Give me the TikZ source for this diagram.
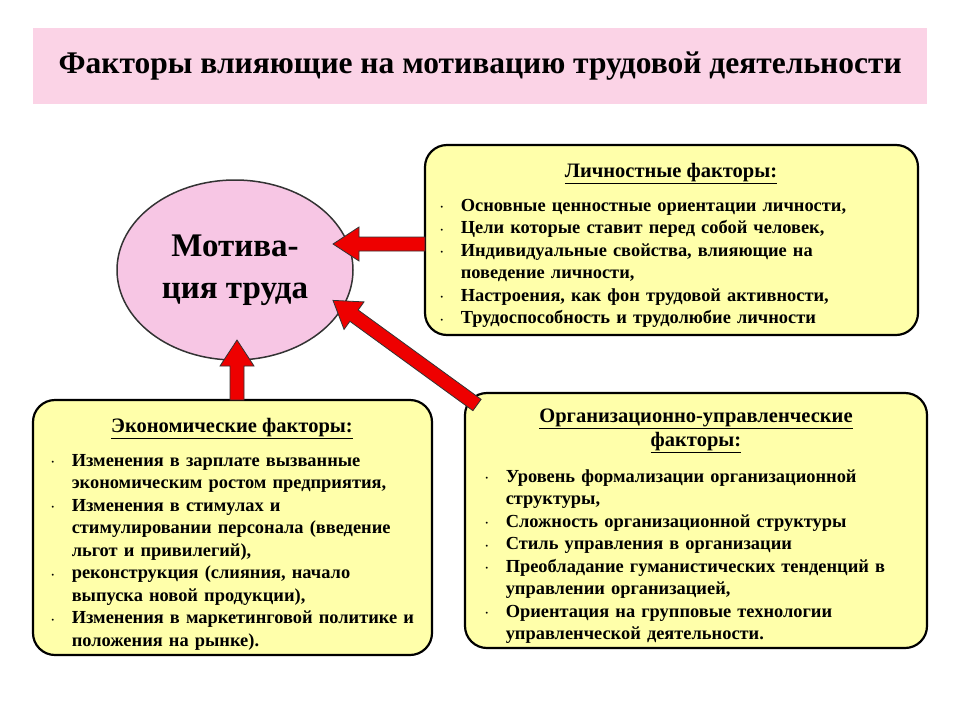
\documentclass[tikz,border=0pt]{standalone}
\usepackage{fontspec}
\usetikzlibrary{shapes.geometric}
\setmainfont{Liberation Serif}
\definecolor{tpink}{HTML}{FBD3E6}
\definecolor{epink}{HTML}{F7C6E4}
\definecolor{byel}{HTML}{FFFFAA}
\definecolor{ared}{HTML}{EE0000}
\newcommand{\itm}[1]{\par\hangindent=1.1em\hangafter=1\noindent\makebox[1.1em][l]{\raisebox{0.15ex}{\scriptsize\textbullet}}#1\par}
\tikzset{
 fbox/.style={draw=black,line width=2.2pt,fill=byel,rounded corners=22pt},
 ftext/.style={font=\bfseries\fontsize{18.4}{22.5}\selectfont,align=left},
 fhead/.style={font=\bfseries\fontsize{20.5}{24}\selectfont,align=center},
 pics/fatarrow/.style={code={
   \fill[ared,draw=black!80,line width=0.8pt] (0,-7)--(#1-26,-7)--(#1-26,-17)--(#1,0)--(#1-26,17)--(#1-26,7)--(0,7)--cycle;}}
}
\begin{document}
\begin{tikzpicture}[x=1pt,y=-1pt]
\useasboundingbox (0,0) rectangle (960,720);
\fill[white] (0,0) rectangle (960,720);
\node[fill=tpink,minimum width=894,minimum height=76,anchor=north west,inner sep=0,
  font=\bfseries\fontsize{31.5}{36}\selectfont] (title) at (33,28)
  {Факторы влияющие на мотивацию трудовой деятельности};
\node[ellipse,draw=black!80,line width=1.5pt,fill=epink,minimum width=236,minimum height=180,
  inner sep=0,font=\bfseries\fontsize{33}{42}\selectfont,align=center] (mot) at (235,270) {Мотива-\\ция труда};
% boxes
\draw[fbox] (425,145) rectangle (918,335);
\node[fhead,anchor=north] (lph) at (671,160) {\underline{Личностные факторы:}};
\node[ftext,text width=460,anchor=north west] (lpt) at (437,185) {%
\itm{Основные ценностные ориентации личности,}
\itm{Цели которые ставит перед собой человек,}
\itm{Индивидуальные свойства, влияющие на поведение личности,}
\itm{Настроения, как фон трудовой активности,}
\itm{Трудоспособность и трудолюбие личности}};
\draw[fbox] (33,400) rectangle (432,655);
\node[fhead,anchor=north] (ech) at (232,415) {\underline{Экономические факторы:}};
\node[ftext,text width=372,anchor=north west] (ect) at (48,440) {%
\itm{Изменения в зарплате вызванные экономическим ростом предприятия,}
\itm{Изменения в стимулах и стимулировании персонала (введение льгот и привилегий),}
\itm{реконструкция  (слияния, начало выпуска новой продукции),}
\itm{Изменения в маркетинговой политике и положения на рынке).}};
\draw[fbox] (465,393) rectangle (927,648);
\node[fhead,anchor=north] (orh) at (696,405) {\underline{Организационно-управленческие}\\\underline{факторы:}};
\node[ftext,text width=425,anchor=north west] (ort) at (482,456) {%
\itm{Уровень формализации организационной структуры,}
\itm{Сложность организационной структуры}
\itm{Стиль управления в организации}
\itm{Преобладание гуманистических тенденций в управлении организацией,}
\itm{Ориентация на групповые технологии управленческой деятельности.}};
% arrows
\pic[shift={(425,244)},rotate=180] {fatarrow=92};
\pic[shift={(237,400)},rotate=90] {fatarrow=60};
\pic[shift={(477,405)},rotate=144] {fatarrow=178};
\end{tikzpicture}
\end{document}
